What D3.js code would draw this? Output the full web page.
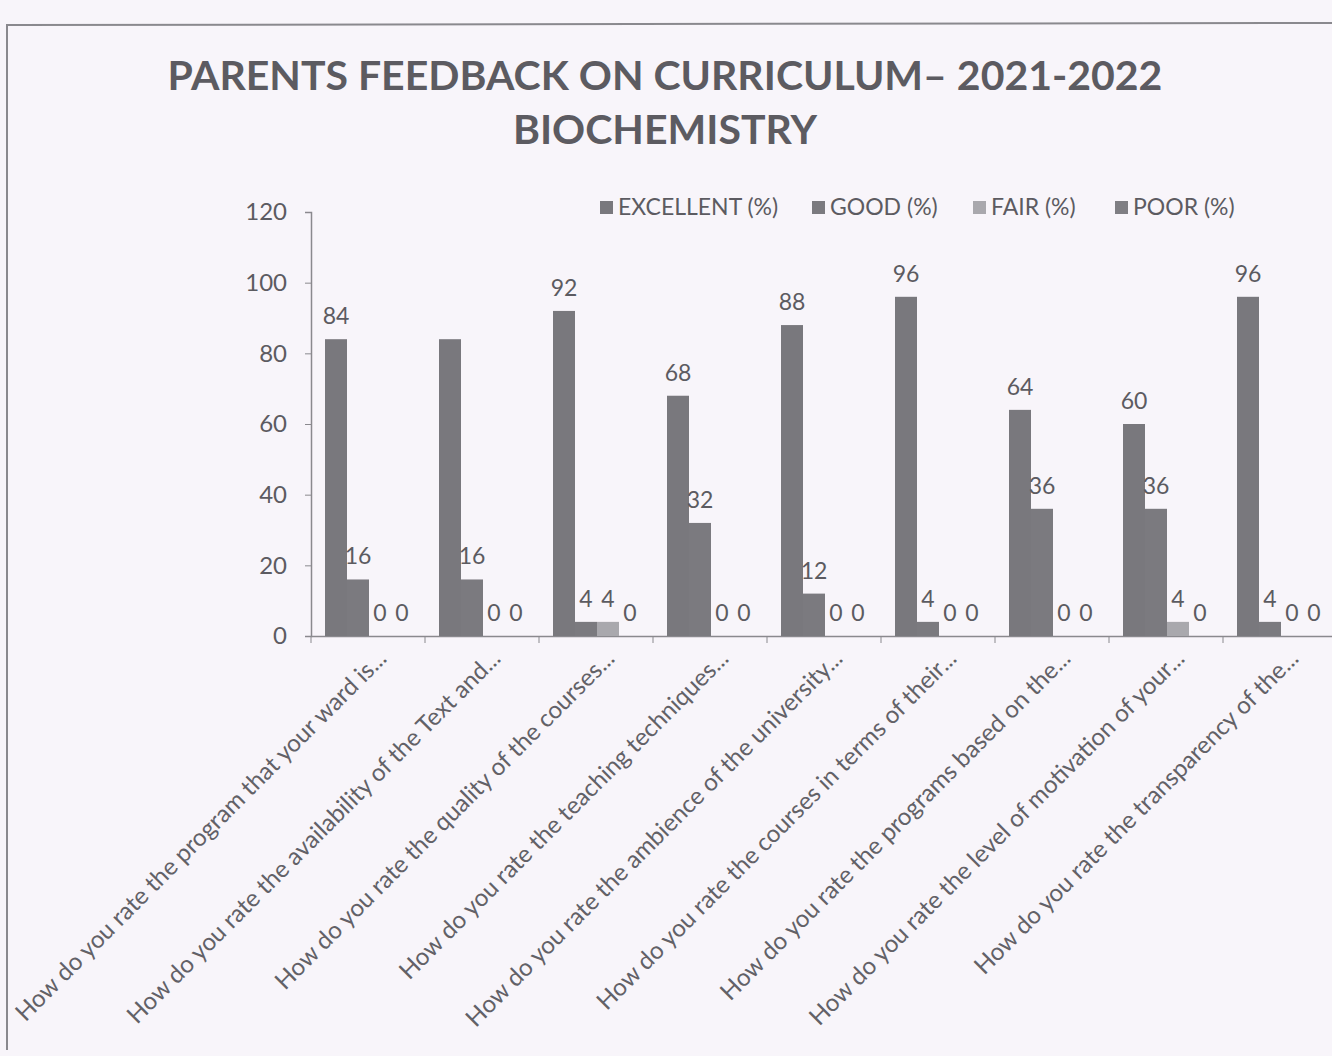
<!DOCTYPE html>
<html>
<head>
<meta charset="utf-8">
<script src="https://cdn.jsdelivr.net/npm/d3@7"></script>
<style>
  body { margin: 0; background: #f8f5fa; }
  svg { display: block; font-family: Lato, "Open Sans", sans-serif; }
</style>
</head>
<body>
<svg id="chart"></svg>
<script>
const questions = [
  "How do you rate the program that your ward is...",
  "How do you rate the availability of the Text and...",
  "How do you rate the quality of the courses...",
  "How do you rate the teaching techniques...",
  "How do you rate the ambience of the university...",
  "How do you rate the courses in terms of their...",
  "How do you rate the programs based on the...",
  "How do you rate the level of motivation of your...",
  "How do you rate the transparency of the..."
];
const seriesNames = ["EXCELLENT (%)", "GOOD (%)", "FAIR (%)", "POOR (%)"];
const excellent = [84, 84, 92, 68, 88, 96, 64, 60, 96];
const good      = [16, 16, 4, 32, 12, 4, 36, 36, 4];
const fair      = [0, 0, 4, 0, 0, 0, 0, 4, 0];
const poor      = [0, 0, 0, 0, 0, 0, 0, 0, 0];
const yTicks = [0, 20, 40, 60, 80, 100, 120];
// the scan lost the label over the second excellent bar
const missingLabels = [[1, 0]];

const colors = ["#79787d", "#7b7a7f", "#a9a8ad", "#7f7e83"];
const textColor = "#5c5b61";

const W = 1332, H = 1056;
const svg = d3.select("#chart").attr("width", W).attr("height", H);

const rows = questions.map((q, i) => ({
  q: q,
  vals: [excellent[i], good[i], fair[i], poor[i]]
}));

// page border of the scanned chart
svg.append("path")
  .attr("d", `M7,1050 L7,25 L${W + 5},23`)
  .attr("fill", "none")
  .attr("stroke", "#8a898e")
  .attr("stroke-width", 2);

const title = svg.append("text")
  .attr("text-anchor", "middle")
  .attr("fill", textColor)
  .style("font-weight", "bold")
  .style("font-size", "41px");
title.append("tspan").attr("x", 665).attr("y", 90).text("PARENTS FEEDBACK ON CURRICULUM\u2013 2021-2022");
title.append("tspan").attr("x", 665).attr("y", 144).text("BIOCHEMISTRY");

const left = 311, baseY = 636, topY = 212;
const x0 = d3.scaleBand().domain(questions).range([left, left + 9 * 114]);
const x1 = d3.scaleBand().domain(d3.range(4)).range([14, 102]);
const y = d3.scaleLinear().domain([0, 120]).range([baseY, topY]);

// y axis
const yAxis = svg.append("g")
  .attr("transform", `translate(${left},0)`)
  .call(d3.axisLeft(y).tickValues(yTicks).tickSize(6).tickPadding(18));
yAxis.select(".domain").attr("stroke", "#8a898e").attr("stroke-width", 1.5);
yAxis.selectAll(".tick line").attr("stroke", "#8a898e");
yAxis.selectAll(".tick text")
  .attr("fill", textColor)
  .style("font-size", "24px")
  .style("font-family", "Lato, sans-serif");

// x axis
const xAxis = svg.append("g")
  .attr("transform", `translate(0,${baseY})`)
  .call(d3.axisBottom(x0).tickSize(0).tickFormat(""));
xAxis.select(".domain").attr("stroke", "#8a898e").attr("stroke-width", 1.5);
xAxis.selectAll(".sep")
  .data(questions)
  .enter()
  .append("line")
  .attr("x1", d => x0(d)).attr("x2", d => x0(d))
  .attr("y1", 0).attr("y2", 7)
  .attr("stroke", "#8a898e");

xAxis.selectAll(".qlabel")
  .data(questions)
  .enter()
  .append("text")
  .attr("text-anchor", "end")
  .attr("transform", d => `translate(${x0(d) + x0.bandwidth() / 2 + 20},${24}) rotate(-45)`)
  .attr("fill", "#626167")
  .style("font-family", "Lato, sans-serif")
  .style("font-size", "24.2px")
  .text(d => d);

// bars
const groups = svg.selectAll(".grp")
  .data(rows)
  .enter()
  .append("g")
  .attr("transform", d => `translate(${x0(d.q)},0)`);

groups.selectAll("rect")
  .data(d => d.vals)
  .enter()
  .append("rect")
  .attr("x", (v, j) => x1(j))
  .attr("width", x1.bandwidth())
  .attr("y", v => y(v))
  .attr("height", v => baseY - y(v))
  .attr("fill", (v, j) => colors[j]);

groups.each(function(d, i) {
  d3.select(this).selectAll(".lbl")
    .data(d.vals.map((v, j) => ({v: v, j: j})).filter(e => !missingLabels.some(m => m[0] === i && m[1] === e.j)))
    .enter()
    .append("text")
    .attr("x", e => x1(e.j) + x1.bandwidth() / 2)
    .attr("y", e => y(e.v) - 15)
    .attr("text-anchor", "middle")
    .attr("fill", textColor)
    .style("font-size", "23px")
    .text(e => e.v);
});

// legend
const legendX = [600, 812, 973, 1115];
const legend = svg.selectAll(".leg")
  .data(seriesNames)
  .enter()
  .append("g")
  .attr("transform", (d, j) => `translate(${legendX[j]},207)`);
legend.append("rect")
  .attr("x", 0).attr("y", -6)
  .attr("width", 13).attr("height", 13)
  .attr("fill", (d, j) => colors[j]);
legend.append("text")
  .attr("x", 18).attr("y", 8)
  .attr("fill", textColor)
  .style("font-size", "23px")
  .text(d => d);
</script>
</body>
</html>
